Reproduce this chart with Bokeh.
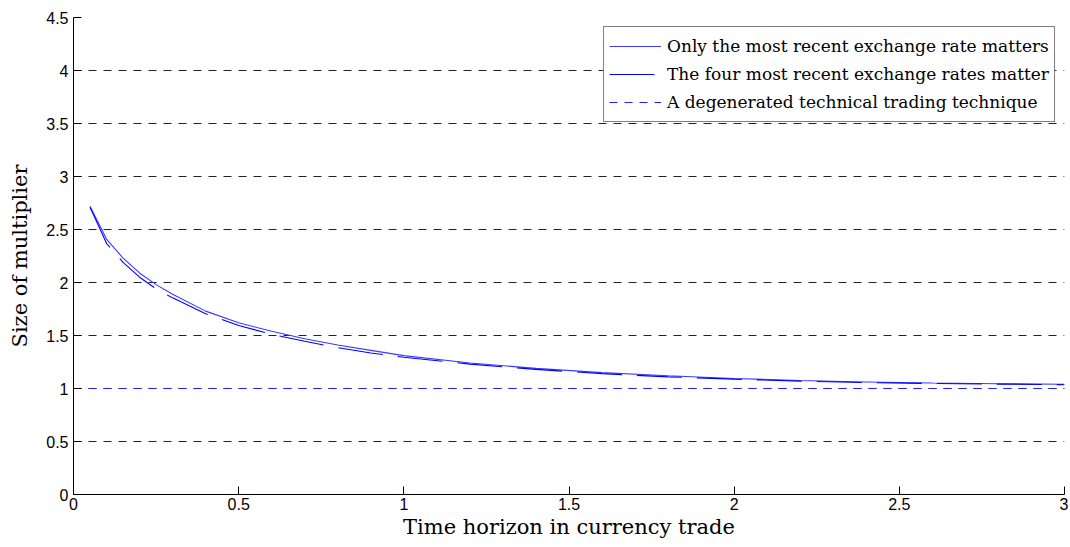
from bokeh.plotting import figure
from bokeh.models import Legend, LegendItem, FixedTicker
from bokeh.embed import file_html
from bokeh.resources import INLINE

# ---- data ----
horizon = [0.05, 0.1, 0.15, 0.2, 0.25, 0.3, 0.4, 0.5, 0.6, 0.7, 0.8, 0.9, 1.0,
           1.2, 1.4, 1.6, 1.8, 2.0, 2.2, 2.4, 2.6, 2.8, 3.0]
recent_one = [2.72, 2.41, 2.23, 2.09, 1.98, 1.89, 1.73, 1.62, 1.54, 1.47, 1.41, 1.36, 1.31,
              1.24, 1.19, 1.15, 1.12, 1.095, 1.075, 1.062, 1.052, 1.045, 1.04]
recent_four = [2.71, 2.37, 2.19, 2.05, 1.94, 1.855, 1.705, 1.595, 1.51, 1.445, 1.385, 1.335, 1.295,
               1.23, 1.18, 1.14, 1.11, 1.088, 1.07, 1.056, 1.047, 1.041, 1.036]
technical_x = [0.0, 3.0]
technical_y = [1.0, 1.0]

x_ticks = [0, 0.5, 1, 1.5, 2, 2.5, 3]
x_labels = ["0", "0.5", "1", "1.5", "2", "2.5", "3"]
y_ticks = [0, 0.5, 1, 1.5, 2, 2.5, 3, 3.5, 4, 4.5]
y_labels = ["0", "0.5", "1", "1.5", "2", "2.5", "3", "3.5", "4", "4.5"]

series_labels = ["Only the most recent exchange rate matters",
                 "The four most recent exchange rates matter",
                 "A degenerated technical trading technique"]

p = figure(width=1068, height=545, x_range=(0, 3), y_range=(0, 4.5),
           output_backend="svg", toolbar_location=None,
           min_border_left=73, min_border_right=4, min_border_top=17, min_border_bottom=51)
p.outline_line_color = None
p.background_fill_color = "white"

# axes
for ax in (p.xaxis[0], p.yaxis[0]):
    ax.major_tick_in = 8
    ax.major_tick_out = 0
    ax.minor_tick_in = 0
    ax.minor_tick_out = 0
    ax.axis_line_color = "black"
    ax.major_tick_line_color = "black"
    ax.major_label_text_font = "Liberation Sans"
    ax.major_label_text_font_size = "16px"
    ax.major_label_text_color = "black"
    ax.axis_label_text_font = "DejaVu Serif"
    ax.axis_label_text_font_size = "21px"
    ax.axis_label_text_font_style = "normal"
    ax.axis_label_text_color = "black"

p.xaxis.ticker = FixedTicker(ticks=x_ticks)
p.yaxis.ticker = FixedTicker(ticks=y_ticks)
p.xaxis.major_label_overrides = {float(t): l for t, l in zip(x_ticks, x_labels)}
p.yaxis.major_label_overrides = {float(t): l for t, l in zip(y_ticks, y_labels)}
p.xaxis.axis_label = "Time horizon in currency trade"
p.yaxis.axis_label = "Size of multiplier"
p.xaxis.major_label_standoff = 3
p.xaxis.axis_label_standoff = 2
p.yaxis.major_label_standoff = 5
p.yaxis.axis_label_standoff = 11

# grid
p.xgrid.grid_line_color = None
p.ygrid.grid_line_color = "#222222"
p.ygrid.grid_line_dash = "8 7"
p.ygrid.grid_line_width = 1

r1 = p.line(horizon, recent_one, line_color="#3a3aff", line_width=1.1)
r2 = p.line(horizon, recent_four, line_color="#0000ff", line_width=1.1, line_dash="45 15")
r3 = p.line(technical_x, technical_y, line_color="#2020ff", line_width=1.2, line_dash="8 7")

legend = Legend(items=[LegendItem(label=series_labels[0], renderers=[r1]),
                       LegendItem(label=series_labels[1], renderers=[r2]),
                       LegendItem(label=series_labels[2], renderers=[r3])],
                location="top_right")
legend.margin = 9
legend.padding = 5
legend.spacing = 0
legend.label_height = 28
legend.glyph_height = 28
legend.glyph_width = 52
legend.label_standoff = 6
legend.label_text_font = "DejaVu Serif"
legend.label_text_font_size = "17px"
legend.label_text_color = "black"
legend.border_line_color = "black"
legend.border_line_width = 1
legend.background_fill_alpha = 1
p.add_layout(legend)

open("out.html", "w").write(file_html(p, INLINE))
